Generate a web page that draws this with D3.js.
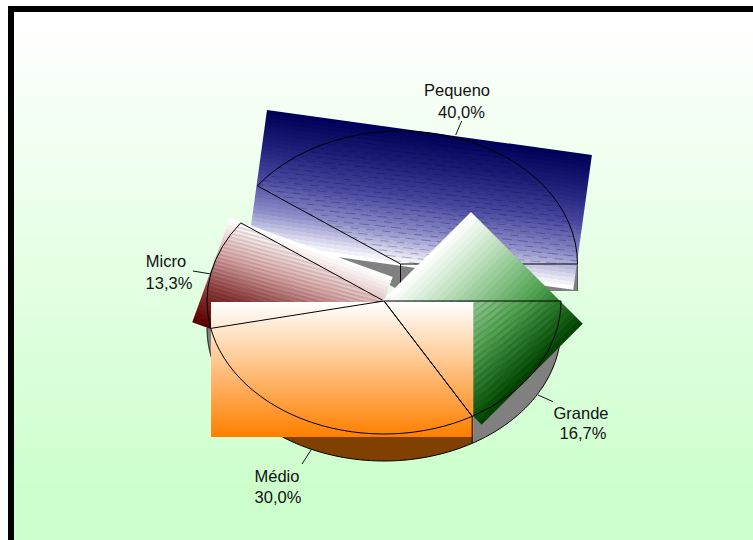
<!DOCTYPE html>
<html>
<head>
<meta charset="utf-8">
<title>Pie</title>
<script src="https://cdn.jsdelivr.net/npm/d3@7/dist/d3.min.js"></script>
<style>
html,body{margin:0;padding:0;background:#fff;overflow:hidden}
svg{display:block}
text{font-family:"Liberation Sans",Arial,sans-serif;font-size:16.5px;fill:#111}
.o{fill:none;stroke:#000;stroke-width:1;vector-effect:non-scaling-stroke}
</style>
</head>
<body>
<script>
const categories = ["Pequeno", "Micro", "Médio", "Grande"];
const values = [40.0, 13.3, 30.0, 16.7];
const percentLabels = ["40,0%", "13,3%", "30,0%", "16,7%"];

const W = 753, H = 540;
const svg = d3.select("body").append("svg").attr("width", W).attr("height", H);
const defs = svg.append("defs");

// pie geometry: counter-clockwise from east, squashed into an ellipse
const rx = 177, ry = 133, depth = 27;
const cx = 384, cy = 301;
const centers = [[400.5, 264], [cx, cy], [cx, cy], [cx, cy]];

const slices = d3.pie().sort(null).value(d => d)
  .startAngle(Math.PI / 2).endAngle(Math.PI / 2 - 2 * Math.PI)(values);
const arcGen = d3.arc().innerRadius(0).outerRadius(rx);

// d3 arc angle -> point on the ellipse
const pt = (a, c, dy = 0) => [c[0] + rx * Math.sin(a), c[1] - ry * Math.cos(a) + dy];
const sliceT = c => `translate(${c[0]},${c[1]}) scale(1,${ry / rx})`;

function stepped(id, colors, n, horizontal) {
  const g = defs.append("linearGradient").attr("id", id).attr("x1", 0).attr("y1", 0)
    .attr("x2", horizontal ? 1 : 0).attr("y2", horizontal ? 0 : 1);
  const col = d3.piecewise(d3.interpolateRgb, colors);
  d3.range(n).forEach(i => {
    const c = col(i / (n - 1));
    g.append("stop").attr("offset", i / n).attr("stop-color", c);
    g.append("stop").attr("offset", (i + 1) / n).attr("stop-color", c);
  });
}
stepped("bg", ["#ffffff", "#ccffcc"], 48);
stepped("blue", ["#000058", "#1e1e78", "#46469e", "#8c8cc8", "#ffffff"], 34);
stepped("red", ["#ffffff", "#d8a8a8", "#8c3c3c", "#5a0000"], 30);
stepped("orange", ["#ffffff", "#ff8000"], 64);
stepped("green", ["#ffffff", "#a8d4a8", "#4c9e4c", "#004400"], 30, true);

function hatchRows(id, rot, gap, dash, color) {
  // two staggered rows of dashes
  const per = dash[0] + dash[1];
  const p = defs.append("pattern").attr("id", id).attr("patternUnits", "userSpaceOnUse")
    .attr("width", per).attr("height", gap * 2).attr("patternTransform", `rotate(${rot})`);
  p.append("line").attr("x1", 0).attr("x2", dash[0]).attr("y1", gap / 2).attr("y2", gap / 2)
    .attr("stroke", color);
  p.append("line").attr("x1", per / 2).attr("x2", per / 2 + dash[0]).attr("y1", gap * 1.5).attr("y2", gap * 1.5)
    .attr("stroke", color);
}
function hatchSolid(id, rot, gap, color) {
  const p = defs.append("pattern").attr("id", id).attr("patternUnits", "userSpaceOnUse")
    .attr("width", 20).attr("height", gap).attr("patternTransform", `rotate(${rot})`);
  p.append("line").attr("x1", 0).attr("x2", 20).attr("y1", gap / 2).attr("y2", gap / 2).attr("stroke", color);
}
hatchRows("hBlue", 7.9, 6.3, [10, 6], "rgba(0,0,40,0.28)");
hatchSolid("hRed", 19.9, 5, "rgba(50,0,0,0.26)");
hatchSolid("hGreen", -45, 6.4, "rgba(0,40,0,0.28)");

function rrect(x, y, w, h, rot, fill) {
  svg.append("rect").attr("x", 0).attr("y", 0).attr("width", w).attr("height", h)
    .attr("transform", `translate(${x},${y}) rotate(${rot})`).attr("fill", fill);
}
function slicePath(i, fill, cls) {
  return svg.append("path").attr("d", arcGen(slices[i])).attr("transform", sliceT(centers[i]))
    .attr("fill", fill).attr("class", cls || null);
}
function outline(i) { slicePath(i, "none", "o"); }

const GRAY = "#808080", BROWN = "#804000";
const lineGen = d3.line();

function wall(c, a) {
  const p = pt(a, c);
  svg.append("path").attr("d", lineGen([c, p, [p[0], p[1] + depth], [c[0], c[1] + depth]]))
    .attr("fill", GRAY);
}
function side(c, a0, a1, fill) {
  const n = 60;
  const as = d3.range(n + 1).map(i => a0 + (a1 - a0) * i / n);
  const low = as.map(a => pt(a, c, depth));
  const up = as.map(a => pt(a, c)).reverse();
  svg.append("path").attr("d", lineGen(low.concat(up)) + "Z").attr("fill", fill);
  svg.append("path").attr("d", lineGen(low)).attr("fill", "none").attr("stroke", "#000");
}

// ---- Pequeno
wall(centers[0], slices[0].endAngle);
wall(centers[0], slices[0].startAngle);
rrect(267, 110, 328, 136, 7.88, "url(#blue)");
slicePath(0, "url(#hBlue)");
outline(0);
{
  const c = centers[0], p = pt(slices[0].startAngle, c);
  svg.append("path").attr("class", "o").attr("d", lineGen([c, [c[0], c[1] + depth]]));
  svg.append("path").attr("d", lineGen([p, [p[0], p[1] + depth]])).attr("stroke", "#555").attr("fill", "none");
}

// ---- side walls of the front slices
side(centers[1], -Math.PI / 2, slices[1].endAngle, GRAY);
side(centers[2], slices[2].startAngle, slices[2].endAngle, BROWN);
side(centers[3], slices[3].startAngle, slices[3].endAngle, GRAY);

// ---- Micro
rrect(230, 218, 173, 111, 19.9, "url(#red)");
slicePath(1, "url(#hRed)");
outline(1);

// ---- Grande
rrect(471, 212, 158, 143, 45, "url(#green)");
slicePath(3, "url(#hGreen)");

// ---- Médio
svg.append("rect").attr("x", 211).attr("y", 302).attr("width", 262.3).attr("height", 135).attr("fill", "url(#orange)");
outline(2);
outline(3);
{
  const p = pt(slices[3].startAngle, centers[3]);
  svg.append("path").attr("class", "o").attr("d", lineGen([p, [p[0], p[1] + depth]]));
}

// ---- leader lines
const leaders = [
  [[461.7, 121], [455.7, 135]],
  [[193, 271], [211, 274]],
  [[311.7, 449], [302, 464]],
  [[538, 395], [553, 401.7]]
];
leaders.forEach(l => svg.append("path").attr("d", lineGen(l)).attr("stroke", "#111").attr("fill", "none"));

// ---- labels
const labelPos = [[457, 96, 461.5, 118], [166, 267, 169, 289], [277, 482, 278, 503], [581, 419, 583, 439]];
categories.forEach((c, i) => {
  const p = labelPos[i];
  svg.append("text").attr("x", p[0]).attr("y", p[1]).attr("text-anchor", "middle").text(c);
  svg.append("text").attr("x", p[2]).attr("y", p[3]).attr("text-anchor", "middle").text(percentLabels[i]);
});

// ---- background + frame go underneath everything
const bgG = svg.insert("g", ":first-child");
bgG.append("rect").attr("x", 0).attr("y", 0).attr("width", W).attr("height", H).attr("fill", "#fff");
bgG.append("rect").attr("x", 14).attr("y", 12).attr("width", W - 14).attr("height", 490).attr("fill", "url(#bg)");
bgG.append("rect").attr("x", 14).attr("y", 500).attr("width", W - 14).attr("height", 40).attr("fill", "#ccffcc");
bgG.append("rect").attr("x", 8).attr("y", 6).attr("width", W - 8).attr("height", 6).attr("fill", "#000");
bgG.append("rect").attr("x", 8).attr("y", 6).attr("width", 6).attr("height", H - 6).attr("fill", "#000");
</script>
</body>
</html>
